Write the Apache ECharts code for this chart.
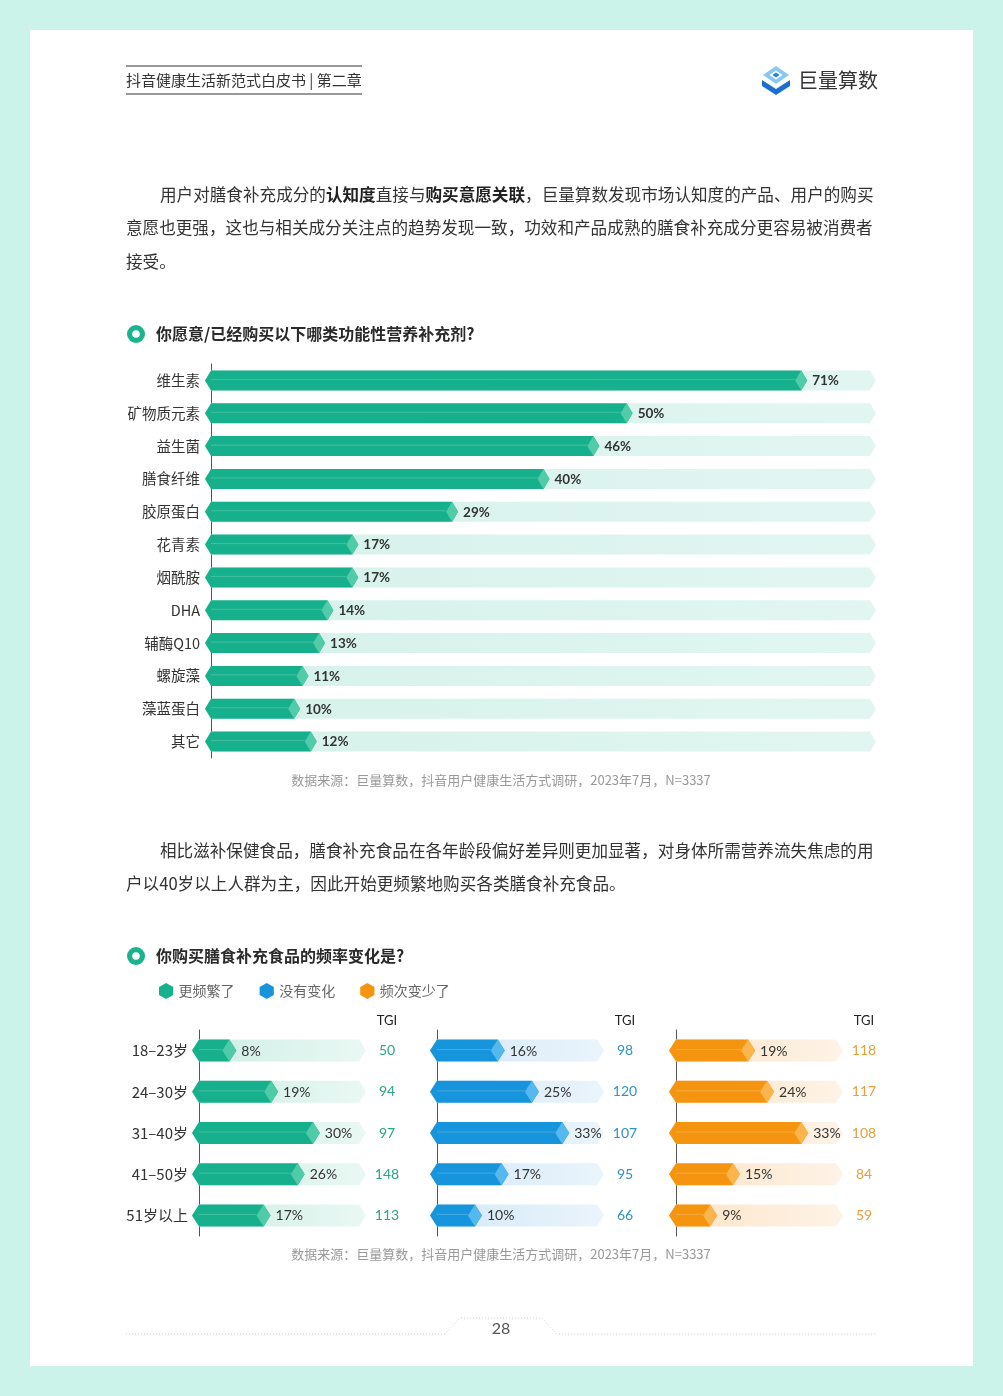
<!DOCTYPE html>
<html><head><meta charset="utf-8">
<script src="https://cdn.jsdelivr.net/npm/echarts@6/dist/echarts.min.js"></script>
<style>html,body{margin:0;padding:0;background:#ccf3ea}#c{width:1003px;height:1396px}</style>
</head><body><div id="c"></div>
<script>
// ---------- data ----------
const supplementCategories = ['维生素','矿物质元素','益生菌','膳食纤维','胶原蛋白','花青素','烟酰胺','DHA','辅酶Q10','螺旋藻','藻蓝蛋白','其它'];
const supplementValues = [71,50,46,40,29,17,17,14,13,11,10,12];
const ageGroups = ['18–23岁','24–30岁','31–40岁','41–50岁','51岁以上'];
const freqSeriesNames = ['更频繁了','没有变化','频次变少了'];
const moreOftenValues = [8,19,30,26,17];
const noChangeValues = [16,25,33,17,10];
const lessOftenValues = [19,24,33,15,9];
const moreOftenTGI = [50,94,97,148,113];
const noChangeTGI = [98,120,107,95,66];
const lessOftenTGI = [118,117,108,84,59];
const sourceNote = '数据来源：巨量算数，抖音用户健康生活方式调研，2023年7月，N=3337';

// ---------- styles ----------
const FONT = '"Noto Sans CJK SC","Noto Sans",sans-serif';
const LATIN = 'Lato,"Noto Sans CJK SC",sans-serif';
const chart = echarts.init(document.getElementById('c'), null, {renderer:'canvas'});

function makeRender(o){
  return function(params, api){
    const v = api.value(0), idx = api.value(1);
    const p0 = api.coord([0, idx]);
    const p1 = api.coord([v, idx]);
    const pb = api.coord([o.max, idx]);
    const h = o.h, t = o.tip, y = p0[1], x0 = p0[0], x1 = p1[0] + t, xb = pb[0];
    const bgFill = new echarts.graphic.LinearGradient(0,0,1,0,[{offset:0,color:o.bg0},{offset:1,color:o.bg1}]);
    return {type:'group', children:[
      {type:'polygon', shape:{points:[[x0-t,y],[x0,y-h/2],[xb-t,y-h/2],[xb,y],[xb-t,y+h/2],[x0,y+h/2]]}, style:{fill:bgFill}},
      {type:'polygon', shape:{points:[[x0-t,y],[x0,y-h/2],[x1-t,y-h/2],[x1,y],[x1-t,y+h/2],[x0,y+h/2]]}, style:{fill:o.color}},
      {type:'line', shape:{x1:x0, y1:y-1, x2:x1-2*t, y2:y-1}, style:{stroke:'rgba(255,255,255,0.2)', lineWidth:1}},
      {type:'polygon', shape:{points:[[x1-t,y-h/2],[x1,y],[x1-t,y+h/2],[x1-2*t,y]]}, style:{fill:o.cap}},
      {type:'text', style:{x:x1+5, y:y+0.5, text:v+'%', align:'left', verticalAlign:'middle',
        fontSize:o.fs, fontWeight:o.fw, fontFamily:LATIN, fill:'#333'}}
    ]};
  };
}

const panelLefts = [199, 437, 676];
const panelVals = [moreOftenValues, noChangeValues, lessOftenValues];
const panelTGI = [moreOftenTGI, noChangeTGI, lessOftenTGI];
const panelColors = ['#17b08c','#1795dc','#f5950f'];
const panelCaps = ['#4fcba8','#55b8ef','#fbb54c'];
const panelBg0 = ['#cdeee4','#d3e9f8','#fde4c6'];
const panelBg1 = ['#eaf8f4','#eaf4fc','#fdf3e7'];
const tgiColors = ['#2aa588','#2f93c6','#e6a03c'];

const grids = [{left:211, top:364, width:665, height:394}];
const xAxes = [{gridIndex:0, type:'value', min:0, max:80, show:false}];
const yAxes = [{gridIndex:0, type:'category', data:supplementCategories, inverse:true,
  axisLine:{show:true, lineStyle:{color:'#555', width:1}}, axisTick:{show:false},
  axisLabel:{margin:11, fontSize:14.5, color:'#333', fontFamily:FONT}}];
const series = [{type:'custom', name:'功能性营养补充剂', xAxisIndex:0, yAxisIndex:0, clip:false,
  itemStyle:{color:'#17b08c'},
  renderItem: makeRender({max:80, h:20, tip:6, color:'#17b08c', cap:'#52cba9', bg0:'#d5f2ea', bg1:'#e2f6f1', fs:13.5, fw:'bold'}),
  encode:{x:0, y:1}, data: supplementValues.map((v,i)=>[v,i])}];

panelLefts.forEach((left, k)=>{
  const gi = k + 1;
  grids.push({left:left, top:1030, width:167, height:206});
  xAxes.push({gridIndex:gi, type:'value', min:0, max:44, show:false});
  yAxes.push({gridIndex:gi, type:'category', data:ageGroups, inverse:true, position:'left',
    axisLine:{show:true, lineStyle:{color:'#555', width:1}}, axisTick:{show:false},
    axisLabel:{show:k===0, margin:11, fontSize:15, color:'#333', fontFamily:FONT}});
  yAxes.push({gridIndex:gi, type:'category', data:panelTGI[k].map(String), inverse:true, position:'right',
    axisLine:{show:false}, axisTick:{show:false},
    axisLabel:{margin:21, align:'center', fontSize:14, color:tgiColors[k], fontFamily:LATIN}});
  series.push({type:'custom', name:freqSeriesNames[k], xAxisIndex:gi, yAxisIndex:yAxes.length-2, clip:false,
    itemStyle:{color:panelColors[k]},
    renderItem: makeRender({max:44, h:22, tip:7, color:panelColors[k], cap:panelCaps[k], bg0:panelBg0[k], bg1:panelBg1[k], fs:14, fw:'normal'}),
    encode:{x:0, y:1}, data: panelVals[k].map((v,i)=>[v,i])});
});

function txt(x, y, text, o){
  return Object.assign({type:'text', z:5, style:Object.assign({x:x, y:y, text:text, fill:'#333', fontSize:16, fontFamily:FONT, verticalAlign:'middle', align:'left'}, o||{})});
}
const PF = 16.6;
const graphics = [
  {type:'rect', z:0, shape:{x:30, y:30, width:943, height:1336}, style:{fill:'#fff'}},
  // header
  {type:'line', z:5, shape:{x1:126, y1:66, x2:362, y2:66}, style:{stroke:'#333', lineWidth:1}},
  {type:'line', z:5, shape:{x1:126, y1:94, x2:362, y2:94}, style:{stroke:'#333', lineWidth:1}},
  txt(126, 80, '抖音健康生活新范式白皮书 | 第二章', {fontSize:15, fill:'#333'}),
  // logo
  {type:'polygon', z:5, shape:{points:[[776,66],[789,75],[776,84],[763,75]]}, style:{fill:'#86c8f2'}},
  {type:'polygon', z:5, shape:{points:[[776,70.5],[782.5,75],[776,79.5],[769.5,75]]}, style:{fill:'#fff'}},
  {type:'polygon', z:5, shape:{points:[[776,72.5],[779.5,75],[776,77.5],[772.5,75]]}, style:{fill:'#1f87d8'}},
  {type:'polygon', z:5, shape:{points:[[762,80],[776,89],[790,80],[790,86],[776,95],[762,86]]}, style:{fill:'#1b6fd0'}},
  txt(798, 80, '巨量算数', {fontSize:20, fill:'#333'}),
  // paragraph 1
  {type:'text', z:5, style:{x:160, y:195, verticalAlign:'middle', fontSize:PF, fontFamily:FONT, fill:'#333',
    text:'{n|用户对膳食补充成分的}{b|认知度}{n|直接与}{b|购买意愿关联}{n|，巨量算数发现市场认知度的产品、用户的购买}',
    rich:{n:{fontSize:PF, fontFamily:FONT, fill:'#333'}, b:{fontSize:PF, fontFamily:FONT, fill:'#222', fontWeight:'bold'}}}},
  txt(126, 228, '意愿也更强，这也与相关成分关注点的趋势发现一致，功效和产品成熟的膳食补充成分更容易被消费者', {fontSize:PF}),
  txt(126, 262, '接受。', {fontSize:PF}),
  // title 1
  {type:'circle', z:5, shape:{cx:136, cy:334, r:9}, style:{fill:'#19b48e'}},
  {type:'circle', z:5, shape:{cx:136, cy:334, r:3.8}, style:{fill:'#fff'}},
  txt(156, 334, '你愿意/已经购买以下哪类功能性营养补充剂?', {fontSize:16, fontWeight:'bold', fill:'#2a2a2a'}),
  txt(501, 780, sourceNote, {fontSize:13, fill:'#999', align:'center'}),
  // paragraph 2
  txt(160, 851, '相比滋补保健食品，膳食补充食品在各年龄段偏好差异则更加显著，对身体所需营养流失焦虑的用', {fontSize:PF}),
  txt(126, 884, '户以40岁以上人群为主，因此开始更频繁地购买各类膳食补充食品。', {fontSize:PF}),
  // title 2
  {type:'circle', z:5, shape:{cx:136, cy:956, r:9}, style:{fill:'#19b48e'}},
  {type:'circle', z:5, shape:{cx:136, cy:956, r:3.8}, style:{fill:'#fff'}},
  txt(156, 956, '你购买膳食补充食品的频率变化是?', {fontSize:16, fontWeight:'bold', fill:'#2a2a2a'}),
  txt(387, 1021, 'TGI', {fontSize:13, fill:'#222', align:'center', fontFamily:LATIN}),
  txt(625, 1021, 'TGI', {fontSize:13, fill:'#222', align:'center', fontFamily:LATIN}),
  txt(864, 1021, 'TGI', {fontSize:13, fill:'#222', align:'center', fontFamily:LATIN}),
  txt(501, 1254, sourceNote, {fontSize:13, fill:'#999', align:'center'}),
  // footer
  {type:'polyline', z:5, shape:{points:[[126,1334],[445,1334],[460,1318],[542,1318],[557,1334],[876,1334]]},
    style:{stroke:'#cfcfcf', lineWidth:1, lineDash:[1,2], fill:null}},
  txt(501, 1329, '28', {fontSize:16, fill:'#555', align:'center', fontFamily:LATIN})
];

chart.setOption({
  backgroundColor:'#ccf3ea',
  animation:false,
  textStyle:{fontFamily:FONT},
  grid: grids, xAxis: xAxes, yAxis: yAxes, series: series,
  legend:{data:freqSeriesNames, left:154, top:978, itemWidth:15, itemHeight:16, itemGap:25, selectedMode:false,
    icon:'path://M8,0 L16,4.5 L16,13.5 L8,18 L0,13.5 L0,4.5 Z',
    textStyle:{fontSize:14, color:'#666', fontFamily:FONT}},
  graphic:{elements: graphics}
});
</script></body></html>
